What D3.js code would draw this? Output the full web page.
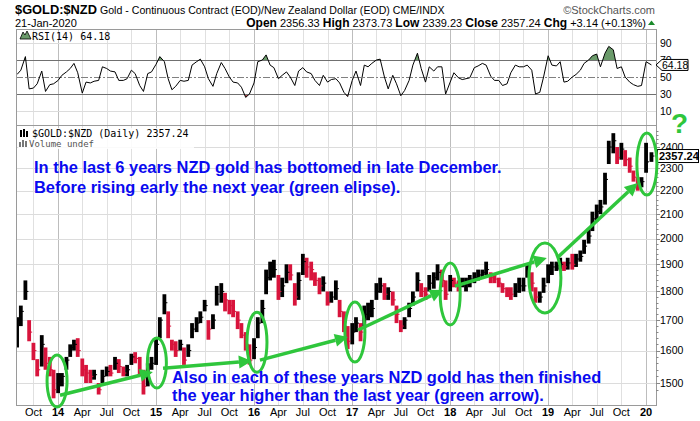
<!DOCTYPE html>
<html><head><meta charset="utf-8">
<script src="https://cdn.jsdelivr.net/npm/d3@7"></script>
<style>body{margin:0;background:#fff}svg{display:block}</style>
</head><body>
<svg id="c" width="700" height="421"></svg>
<script>
// ---- data (semi-monthly readings: 1st and 15th of each month, Aug 2013 - Jan 2020) ----
const priceHigh = [
 1710,1750,1840,1700,1625,1573,1650,1610,1580,1540,
 1530,1530,1580,1620,1635,1640,1575,1555,1540,1540,1500,1540,1550,1555,1580,1573,1550,1555,1590,1595,1580,1540,1560,1580,
 1640,1710,1790,1730,1635,1630,1635,1610,1620,1690,1710,1730,1770,1700,1720,1820,1830,1795,1770,1770,1730,1690,1660,1620,
 1640,1710,1770,1880,1910,1917,1860,1850,1900,1900,1830,1870,1940,1925,1910,1870,1850,1855,1800,1800,1840,1770,1730,1680,
 1690,1710,1690,1750,1760,1770,1830,1850,1830,1815,1800,1750,1700,1710,1760,1800,1870,1830,1815,1860,1870,1900,1880,1840,
 1860,1850,1840,1850,1850,1860,1870,1880,1880,1910,1870,1860,1850,1830,1815,1815,1830,1850,1850,1900,1870,1815,1800,1850,
 1900,1910,1910,1925,1910,1925,1940,1940,1953,1995,2040,2110,2140,2160,2280,2430,2467,2400,2420,2385,2350,2290,2260,2260,
 2420,2375];
const priceLow = [
 1610,1680,1770,1630,1570,1520,1550,1540,1520,1455,
 1470,1490,1540,1580,1600,1580,1520,1500,1500,1510,1466,1500,1520,1520,1540,1530,1520,1520,1555,1560,1520,1466,1490,1540,
 1555,1640,1720,1640,1600,1580,1600,1555,1580,1640,1660,1690,1730,1635,1670,1750,1760,1730,1720,1710,1670,1640,1600,1556,
 1573,1640,1690,1790,1840,1850,1770,1780,1830,1840,1750,1770,1860,1850,1840,1820,1790,1800,1750,1760,1770,1710,1660,1605,
 1620,1660,1630,1680,1700,1710,1770,1795,1770,1770,1750,1690,1660,1670,1710,1750,1800,1780,1770,1800,1810,1840,1815,1770,
 1800,1815,1800,1815,1800,1815,1830,1840,1850,1860,1830,1830,1815,1795,1780,1770,1780,1795,1800,1850,1800,1760,1760,1795,
 1830,1860,1875,1880,1875,1880,1880,1890,1910,1940,1980,2030,2070,2100,2140,2320,2370,2320,2340,2310,2280,2240,2200,2215,
 2280,2330];
const priceClose = [
 1700,1730,1800,1660,1600,1540,1620,1560,1540,1480,
 1500,1520,1570,1610,1620,1600,1540,1530,1520,1525,1480,1520,1535,1530,1560,1550,1530,1540,1580,1575,1530,1490,1530,1560,
 1620,1700,1760,1680,1620,1600,1620,1570,1600,1670,1690,1710,1750,1670,1700,1790,1800,1770,1750,1730,1700,1650,1620,1570,
 1610,1690,1740,1850,1880,1880,1800,1820,1870,1860,1780,1840,1910,1890,1880,1840,1820,1830,1760,1780,1810,1730,1680,1630,
 1660,1690,1660,1720,1730,1740,1800,1820,1790,1800,1770,1720,1680,1700,1740,1780,1840,1800,1790,1830,1850,1870,1840,1790,
 1840,1830,1820,1830,1830,1845,1850,1860,1870,1880,1850,1845,1830,1810,1800,1790,1800,1820,1820,1880,1830,1780,1780,1820,
 1870,1890,1895,1900,1890,1905,1900,1920,1930,1970,2010,2080,2110,2130,2250,2400,2430,2350,2390,2340,2310,2260,2230,2240,
 2330,2357.24];
const rsiValues = [
 53,58,74,36,37,42,57,33,41,42,
 46,52,56,60,66,55,31,44,43,45,46,62,60,57,56,46,46,48,58,54,40,33,54,56,
 65,74,68,48,35,39,46,45,46,64,68,71,62,48,39,54,67,60,50,44,43,38,26,30,
 43,68,70,76,64,61,48,52,56,50,40,57,61,56,54,46,40,52,44,47,48,43,32,27,
 46,57,40,64,62,66,70,71,50,36,52,42,28,34,46,64,78,60,44,62,57,62,62,30,
 44,55,49,47,48,49,61,63,66,64,51,46,46,40,42,55,64,62,62,64,58,30,32,50,
 75,64,63,68,44,45,50,53,58,66,70,75,77,62,78,86,82,60,62,50,44,41,39,40,
 68,64.18];
const priceTicks = [1500,1600,1700,1800,1900,2000,2100,2200,2300,2400];
const rsiTicks = [90,70,50,30,10];
const monthNames = {3:"Apr",6:"Jul",9:"Oct"};
// annotations (date, price)
const ellipses = [
 ["2013-12-28",1506],["2015-01-04",1561],["2016-01-12",1627],["2017-01-11",1660],
 ["2018-01-01",1791],["2018-12-20",1849],["2020-01-04",2320]];
const ellipseR = [[10,26],[9.5,25],[10,30],[10,30],[10,31],[16,35],[10,31]];
const arrows = [
 ["2014-01-08",1464,"2014-12-20",1533],["2015-01-27",1545,"2015-12-24",1567],
 ["2016-01-23",1570,"2016-12-16",1644],["2017-01-23",1667,"2017-12-05",1805],
 ["2018-01-19",1819,"2018-12-27",1924],["2019-02-07",1928,"2019-12-01",2234]];

// dates: 1st and 15th of each month
const dates = [];
{ let y=2013, m=7; while (dates.length < priceClose.length) { dates.push(new Date(y,m,1)); dates.push(new Date(y,m,15)); m++; if (m>11){m=0;y++;} } }
dates.length = priceClose.length;
dates[dates.length-1] = new Date(2020,0,21);

const svg = d3.select('#c');
const L=16, R=656, rTop=29, rBot=125, pBot=405;
const x = d3.scaleTime().domain([new Date(2013,6,28), new Date(2020,1,7)]).range([L,R]);
const yP = d3.scaleLog().domain([1500,2400]).range([383,147]);
const yR = d3.scaleLinear().domain([30,90]).range([94,43]);
const parse = d3.timeParse("%Y-%m-%d");
const GREEN = "#2fc63c", BLUE = "#0a0af0", RED = "#d8143c";
const FONT = "Liberation Sans, Arial, sans-serif";
const MONO = "DejaVu Sans Mono, monospace";

svg.append('rect').attr('width',700).attr('height',421).attr('fill','#fff');

// vertical gridlines
const quarters = d3.timeMonth.every(3).range(new Date(2013,6,1), new Date(2020,1,8)).filter(d=>x(d)>=L && x(d)<=R);
svg.append('g').selectAll('line').data(quarters).join('line')
  .attr('x1',d=>Math.round(x(d))+0.5).attr('x2',d=>Math.round(x(d))+0.5)
  .attr('y1',rTop).attr('y2',pBot)
  .attr('stroke',d=>d.getMonth()===0?'#bdbdbd':'#e0e0e0').attr('stroke-width',1);

// price horizontal grid
svg.append('g').selectAll('line').data(priceTicks).join('line')
  .attr('x1',L).attr('x2',R).attr('y1',d=>Math.round(yP(d))+0.5).attr('y2',d=>Math.round(yP(d))+0.5)
  .attr('stroke','#dcdcdc');
// rsi horizontal grid
[90,10].forEach(v=>svg.append('line').attr('x1',L).attr('x2',R).attr('y1',Math.round(yR(v))+0.5).attr('y2',Math.round(yR(v))+0.5).attr('stroke','#dcdcdc'));

// RSI fills
const rsiData = dates.map((d,i)=>({d, v:rsiValues[i]}));
const defs = svg.append('defs');
defs.append('clipPath').attr('id','above').append('rect').attr('x',L).attr('y',rTop).attr('width',R-L).attr('height',yR(70)-rTop);
defs.append('clipPath').attr('id','below').append('rect').attr('x',L).attr('y',yR(30)).attr('width',R-L).attr('height',rBot-yR(30));
defs.append('clipPath').attr('id','pclip').append('rect').attr('x',L).attr('y',rBot).attr('width',R-L).attr('height',pBot-rBot);
svg.append('path').datum(rsiData).attr('clip-path','url(#above)')
  .attr('d',d3.area().x(d=>x(d.d)).y0(yR(70)).y1(d=>yR(d.v))).attr('fill','#6a9a6a');
svg.append('path').datum(rsiData).attr('clip-path','url(#below)')
  .attr('d',d3.area().x(d=>x(d.d)).y0(yR(30)).y1(d=>yR(d.v))).attr('fill','#c05050');
// rsi reference lines
[70,30].forEach(v=>svg.append('line').attr('x1',L).attr('x2',R).attr('y1',Math.round(yR(v))+0.5).attr('y2',Math.round(yR(v))+0.5).attr('stroke','#707070'));
svg.append('line').attr('x1',L).attr('x2',R).attr('y1',Math.round(yR(50))+0.5).attr('y2',Math.round(yR(50))+0.5)
  .attr('stroke','#808080').attr('stroke-dasharray','7,2,2,2');
svg.append('path').datum(rsiData).attr('d',d3.line().x(d=>x(d.d)).y(d=>yR(d.v)))
  .attr('fill','none').attr('stroke','#000').attr('stroke-width',1);

// price bars
const bars = dates.map((d,i)=>({d,h:priceHigh[i],l:priceLow[i],c:priceClose[i],up: i===0 || priceClose[i]>=priceClose[i-1]}));
const gB = svg.append('g').attr('clip-path','url(#pclip)');
gB.selectAll('rect').data(bars).join('rect')
  .attr('x',d=>x(d.d)-1.9).attr('width',3.8)
  .attr('y',d=>yP(d.h)).attr('height',d=>yP(d.l)-yP(d.h))
  .attr('fill',d=>d.up?'#000':RED);
gB.selectAll('line.c').data(bars).join('line').attr('class','c')
  .attr('x1',d=>x(d.d)).attr('x2',d=>x(d.d)+3).attr('y1',d=>yP(d.c)).attr('y2',d=>yP(d.c))
  .attr('stroke',d=>d.up?'#000':RED).attr('stroke-width',1);

// panel borders
svg.append('rect').attr('x',L+0.5).attr('y',rTop+0.5).attr('width',R-L).attr('height',pBot-rTop).attr('fill','none').attr('stroke','#9a9a9a');
svg.append('line').attr('x1',L).attr('x2',R).attr('y1',rBot+0.5).attr('y2',rBot+0.5).attr('stroke','#9a9a9a');

// right axis: price
const gPA = svg.append('g').attr('font-family',FONT).attr('font-size',10.5).attr('fill','#000');
gPA.selectAll('text').data(priceTicks).join('text').attr('x',660).attr('y',d=>yP(d)).attr('dy','0.35em').text(d=>d);
const minor = d3.range(1480,2481,20);
svg.append('g').selectAll('line').data(minor).join('line')
  .attr('x1',R).attr('x2',d=>d%100===0?R+4:R+2.5).attr('y1',d=>Math.round(yP(d))+0.5).attr('y2',d=>Math.round(yP(d))+0.5)
  .attr('stroke','#888').attr('opacity',d=>(yP(d)>rBot && yP(d)<pBot)?1:0);
// right axis: rsi
svg.append('g').attr('font-family',FONT).attr('font-size',10.5).selectAll('text').data(rsiTicks).join('text')
  .attr('x',660).attr('y',d=>yR(d)).attr('dy','0.35em').text(d=>d);

// rsi value box
const ry = yR(64.18);
svg.append('path').attr('d',`M${R},${ry} L${R+6},${ry-5.5} L688,${ry-5.5} L688,${ry+5.5} L${R+6},${ry+5.5} Z`)
  .attr('fill','#fff').attr('stroke','#000');
svg.append('text').attr('x',662).attr('y',ry).attr('dy','0.36em').attr('font-family',FONT).attr('font-size',10.5).text('64.18');
// price value box
const py = yP(2357.24);
svg.append('rect').attr('x',657.5).attr('y',py-6.5).attr('width',41).attr('height',13).attr('fill','#fff').attr('stroke','#000');
svg.append('text').attr('x',659).attr('y',py).attr('dy','0.36em').attr('font-family',FONT).attr('font-size',11).attr('font-weight','bold').text('2357.24');

// x axis labels
const gX = svg.append('g').attr('font-family',FONT).attr('font-size',11).attr('text-anchor','middle');
gX.selectAll('text').data(quarters).join('text')
  .attr('x',d=>x(d)).attr('y',416)
  .attr('font-weight',d=>d.getMonth()===0?'bold':'normal')
  .text(d=>d.getMonth()===0?d3.timeFormat('%y')(d):monthNames[d.getMonth()]);

// text fitting helper
function fit(sel,w){const n=sel.node();const c=n.getComputedTextLength();sel.attr('font-size',parseFloat(sel.attr('font-size'))*w/c);return sel;}

// header
fit(svg.append('text').attr('x',15).attr('y',14).attr('font-family',FONT).attr('font-weight','bold').attr('font-size',14).text('$GOLD:$NZD'),82);
fit(svg.append('text').attr('x',100).attr('y',13.5).attr('font-family',FONT).attr('font-size',11).text('Gold - Continuous Contract (EOD)/New Zealand Dollar (EOD) CME/INDX'),345);
svg.append('text').attr('x',655).attr('y',13.5).attr('text-anchor','end').attr('font-family',FONT).attr('font-size',11).attr('fill','#555').text('\u00A9StockCharts.com');
svg.append('text').attr('x',15).attr('y',26.5).attr('font-family',FONT).attr('font-size',11).text('21-Jan-2020');
const ohl = svg.append('text').attr('x',646).attr('y',26.5).attr('text-anchor','end').attr('font-family',FONT).attr('font-size',11);
[['Open',1],[' 2356.33 ',0],['High',1],[' 2373.73 ',0],['Low',1],[' 2339.23 ',0],['Close',1],[' 2357.24 ',0],['Chg',1],[' +3.14 (+0.13%)',0]]
 .forEach(([t,b])=>ohl.append('tspan').attr('font-weight',b?'bold':'normal').attr('font-size',b?'1.09em':'1em').text(t));
fit(ohl,400);
svg.append('path').attr('d','M648,25 L651.5,20.5 L655,25 Z').attr('fill','#1a8a2a');

// panel labels
svg.append('path').attr('d','M20,39 L23,32 L25,35 L27,31 L31,39 Z').attr('fill','#6a9a6a').attr('stroke','#000').attr('stroke-width',0.8);
svg.append('text').attr('x',32).attr('y',39.5).attr('font-family',MONO).attr('font-size',10).text('RSI(14) 64.18');
svg.append('rect').attr('x',18).attr('y',128).attr('width',176).attr('height',21).attr('fill','#fff').attr('opacity',0.85);
[[20,130,7],[23,129,8],[26,131,6]].forEach(([bx,by,bh])=>svg.append('rect').attr('x',bx).attr('y',by).attr('width',2).attr('height',bh).attr('fill','#000'));
svg.append('text').attr('x',32).attr('y',136.5).attr('font-family',MONO).attr('font-size',10).text('$GOLD:$NZD (Daily) 2357.24');
[[19,142,5],[22,140,7],[25,141,6]].forEach(([bx,by,bh])=>svg.append('rect').attr('x',bx).attr('y',by).attr('width',2).attr('height',bh).attr('fill','#777'));
svg.append('text').attr('x',29).attr('y',147).attr('font-family',MONO).attr('font-size',9).attr('fill','#555').text('Volume undef');

// annotation ellipses & arrows
const gA = svg.append('g');
ellipses.forEach(([d,p],i)=>gA.append('ellipse').attr('cx',x(parse(d))).attr('cy',yP(p))
  .attr('rx',ellipseR[i][0]).attr('ry',ellipseR[i][1]).attr('fill','none').attr('stroke',GREEN).attr('stroke-width',3));
arrows.forEach(([d1,p1,d2,p2])=>{
  const x1=x(parse(d1)),y1=yP(p1),x2=x(parse(d2)),y2=yP(p2);
  const a=Math.atan2(y2-y1,x2-x1), len=13, hw=6.5;
  const bx=x2-len*Math.cos(a), by=y2-len*Math.sin(a);
  gA.append('line').attr('x1',x1).attr('y1',y1).attr('x2',bx).attr('y2',by).attr('stroke',GREEN).attr('stroke-width',3.5);
  gA.append('path').attr('d',`M${x2},${y2} L${bx-hw*Math.sin(a)},${by+hw*Math.cos(a)} L${bx+hw*Math.sin(a)},${by-hw*Math.cos(a)} Z`).attr('fill',GREEN);
});
svg.append('text').attr('x',671).attr('y',133).attr('font-family',FONT).attr('font-weight','bold').attr('font-size',28).attr('fill',GREEN).text('?');

// annotation texts
const t1 = svg.append('text').attr('x',34).attr('y',173).attr('font-family',FONT).attr('font-weight','bold').attr('font-size',16).attr('fill',BLUE)
  .text('In the last 6 years NZD gold has bottomed in late December.');
fit(t1,468);
const fs = t1.attr('font-size');
svg.append('text').attr('x',34).attr('y',193).attr('font-family',FONT).attr('font-weight','bold').attr('font-size',fs).attr('fill',BLUE)
  .text('Before rising early the next year (green elipse).');
svg.append('text').attr('x',172).attr('y',383).attr('font-family',FONT).attr('font-weight','bold').attr('font-size',fs).attr('fill',BLUE)
  .text('Also in each of these years NZD gold has then finished');
svg.append('text').attr('x',172).attr('y',401).attr('font-family',FONT).attr('font-weight','bold').attr('font-size',fs).attr('fill',BLUE)
  .text('the year higher than the last year (green arrow).');
</script>
</body></html>
